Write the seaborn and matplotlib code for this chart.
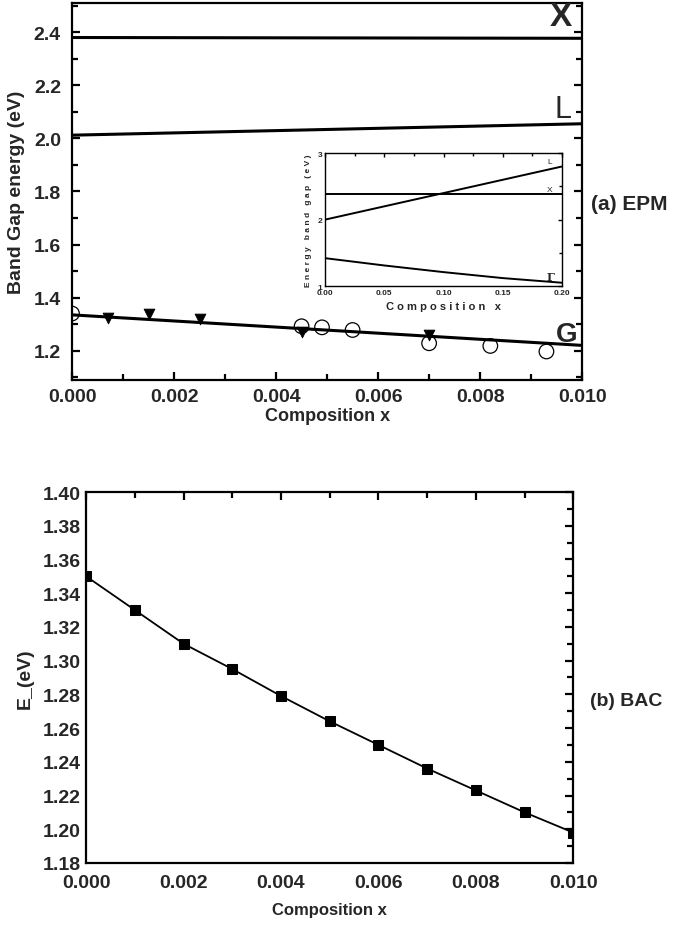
import matplotlib
matplotlib.use("Agg")
import matplotlib.pyplot as plt
from matplotlib.ticker import MultipleLocator, FormatStrFormatter
import seaborn as sns
import pandas as pd

sns.set_theme(style="white")
plt.rcParams['font.family'] = ['Liberation Sans', 'DejaVu Sans']

# ---------------- data: panel (a) EPM ----------------
x_line = [0.0, 0.010]
x_band = [2.38, 2.377]
l_band = [2.012, 2.055]
g_band = [1.335, 1.220]

circ_x = [0.0, 0.0045, 0.0049, 0.0055, 0.0070, 0.0082, 0.0093]
circ_y = [1.340, 1.292, 1.288, 1.278, 1.228, 1.218, 1.197]
tri_x = [0.0007, 0.0015, 0.0025, 0.0045, 0.0070]
tri_y = [1.325, 1.337, 1.320, 1.270, 1.258]

# inset
ins_x = [0.0, 0.05, 0.10, 0.15, 0.20]
ins_L = [2.00, 2.20, 2.40, 2.60, 2.80]
ins_X = [2.38, 2.38, 2.38, 2.38, 2.38]
ins_G = [1.42, 1.31, 1.21, 1.12, 1.05]

# ---------------- data: panel (b) BAC ----------------
bac_x = [0.000, 0.001, 0.002, 0.003, 0.004, 0.005, 0.006, 0.007, 0.008, 0.009, 0.010]
bac_y = [1.350, 1.330, 1.310, 1.295, 1.279, 1.264, 1.250, 1.236, 1.223, 1.210, 1.198]

fig = plt.figure(figsize=(6.73, 9.29), dpi=100)

def style_axes(ax, lw=1.6):
    for s in ax.spines.values():
        s.set_visible(True)
        s.set_color('black')
        s.set_linewidth(lw)
    ax.tick_params(which='both', direction='in', color='black', width=lw)
    ax.tick_params(which='major', length=6)
    ax.tick_params(which='minor', length=4)

# ---------- top panel ----------
ax1 = fig.add_axes([0.107, 0.590, 0.758, 0.4057])
style_axes(ax1)
df_x = pd.DataFrame({'x': x_line, 'y': x_band})
df_l = pd.DataFrame({'x': x_line, 'y': l_band})
df_g = pd.DataFrame({'x': x_line, 'y': g_band})
for d in (df_x, df_l, df_g):
    sns.lineplot(data=d, x='x', y='y', ax=ax1, color='black', linewidth=2.2)
sns.scatterplot(x=circ_x, y=circ_y, ax=ax1, marker='o', s=110, facecolors='none',
                edgecolor='black', linewidth=0.9, zorder=4)
sns.scatterplot(x=tri_x, y=tri_y, ax=ax1, marker='v', s=60, color='black',
                edgecolor='black', zorder=4)
ax1.set_xlim(0, 0.010)
ax1.set_ylim(1.09, 2.51)
ax1.xaxis.set_major_locator(MultipleLocator(0.002))
ax1.xaxis.set_minor_locator(MultipleLocator(0.001))
ax1.yaxis.set_major_locator(MultipleLocator(0.2))
ax1.yaxis.set_minor_locator(MultipleLocator(0.1))
ax1.tick_params(which='both', top=False, right=True, bottom=True, left=True,
                labelsize=14, pad=8)
ax1.tick_params(axis='x', pad=6)
ax1.xaxis.set_major_formatter(FormatStrFormatter('%.3f'))
ax1.yaxis.set_major_formatter(FormatStrFormatter('%.1f'))
for t in ax1.get_xticklabels() + ax1.get_yticklabels():
    t.set_fontweight('bold')
ax1.set_xlabel('Composition x', fontsize=13, fontweight='bold', labelpad=1)
ax1.set_ylabel('Band Gap energy (eV)', fontsize=14, fontweight='bold', labelpad=6)
ax1.text(0.0098, 2.46, 'X', fontsize=24, fontweight='bold', ha='right', va='center')
ax1.text(0.0098, 2.11, 'L', fontsize=22, ha='right', va='center')
ax1.text(0.0099, 1.262, 'G', fontsize=20, fontweight='bold', ha='right', va='center')
ax1.text(1.018, 0.467, '(a) EPM', transform=ax1.transAxes, fontsize=15,
         fontweight='bold', ha='left', va='center')

# ---------- inset ----------
axi = fig.add_axes([0.483, 0.691, 0.352, 0.143])
style_axes(axi, lw=1.0)
for yy in (ins_L, ins_X, ins_G):
    sns.lineplot(x=ins_x, y=yy, ax=axi, color='black', linewidth=1.4)
axi.set_xlim(0, 0.20)
axi.set_ylim(1, 3)
axi.xaxis.set_major_locator(MultipleLocator(0.05))
axi.xaxis.set_minor_locator(MultipleLocator(0.025))
axi.yaxis.set_major_locator(MultipleLocator(1))
axi.yaxis.set_minor_locator(MultipleLocator(0.5))
axi.tick_params(which='both', top=True, right=True, labelsize=6, pad=2)
axi.tick_params(which='major', length=3)
axi.tick_params(which='minor', length=2)
axi.xaxis.set_major_formatter(FormatStrFormatter('%.2f'))
axi.yaxis.set_major_formatter(FormatStrFormatter('%d'))
for t in axi.get_xticklabels() + axi.get_yticklabels():
    t.set_fontweight('bold')
axi.set_xlabel('C o m p o s i t i o n   x', fontsize=8, fontweight='bold', labelpad=4)
axi.set_ylabel('E n e r g y   b a n d   g a p   ( e V )', fontsize=6, fontweight='bold', labelpad=4)
axi.text(0.19, 2.88, 'L', fontsize=6, ha='center', va='center')
axi.text(0.19, 2.46, 'X', fontsize=6, ha='center', va='center')
axi.text(0.19, 1.14, 'Γ', fontsize=8, fontweight='bold', ha='center', va='center',
         family=['DejaVu Serif'])

# ---------- bottom panel ----------
ax2 = fig.add_axes([0.128, 0.070, 0.724, 0.3993])
style_axes(ax2)
df_b = pd.DataFrame({'x': bac_x, 'y': bac_y})
sns.lineplot(data=df_b, x='x', y='y', ax=ax2, color='black', linewidth=1.3,
             marker='s', markersize=7, markeredgecolor='black')
ax2.set_xlim(0, 0.010)
ax2.set_ylim(1.18, 1.40)
ax2.xaxis.set_major_locator(MultipleLocator(0.002))
ax2.xaxis.set_minor_locator(MultipleLocator(0.001))
ax2.yaxis.set_major_locator(MultipleLocator(0.02))
ax2.yaxis.set_minor_locator(MultipleLocator(0.01))
ax2.tick_params(which='both', top=True, right=True, labelsize=14, pad=4)
ax2.tick_params(axis='x', pad=8)
ax2.xaxis.set_major_formatter(FormatStrFormatter('%.3f'))
ax2.yaxis.set_major_formatter(FormatStrFormatter('%.2f'))
for t in ax2.get_xticklabels() + ax2.get_yticklabels():
    t.set_fontweight('bold')
ax2.set_xlabel('Composition x', fontsize=12, fontweight='bold', labelpad=8)
ax2.set_ylabel('E_(eV)', fontsize=14, fontweight='bold', labelpad=6)
ax2.text(1.035, 0.437, '(b) BAC', transform=ax2.transAxes, fontsize=14,
         fontweight='bold', ha='left', va='center')

fig.savefig('out.png', dpi=100)
